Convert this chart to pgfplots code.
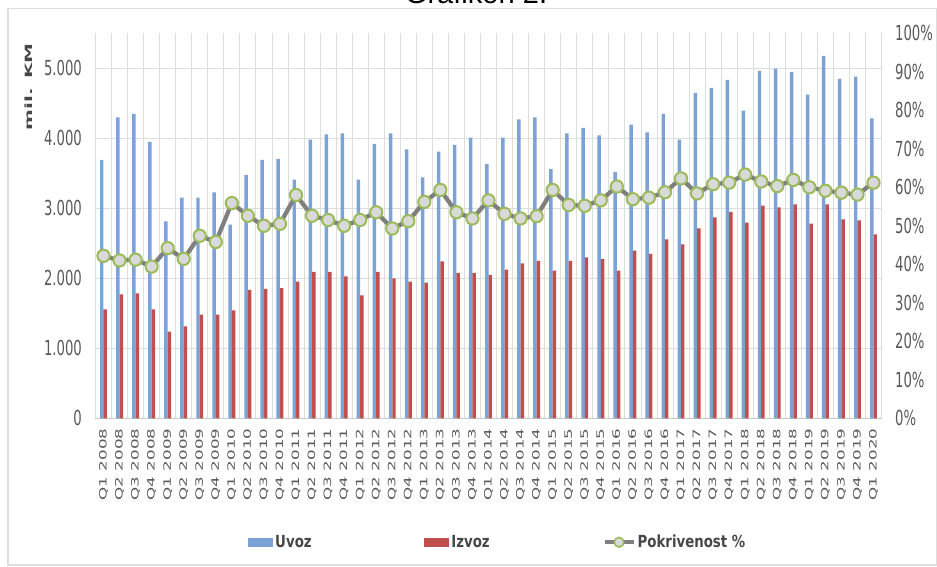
\documentclass[border=0pt]{standalone}
\usepackage{fontspec}
\setmainfont{DejaVu Sans}
\newfontfamily\tickfont[FakeStretch=0.64]{DejaVu Sans}
\newfontfamily\xtickfont[FakeStretch=1.65]{DejaVu Sans}
\newfontfamily\legfont[FakeStretch=0.8]{DejaVu Sans}
\newfontfamily\ylabfont[FakeStretch=2.0]{DejaVu Sans}
\newfontfamily\titlefont{Liberation Sans}
\usepackage{pgfplots}
\usepackage{pgfplotstable}
\pgfplotsset{compat=1.18}

\definecolor{uvoz}{HTML}{7BA3D6}
\definecolor{izvoz}{HTML}{C0504D}
\definecolor{pokr}{HTML}{7F7F7F}
\definecolor{mk}{HTML}{9BBB59}
\definecolor{mkfill}{HTML}{D9D9D9}
\definecolor{txt}{HTML}{595959}
\definecolor{gridc}{HTML}{DDDDDD}
\definecolor{axisc}{HTML}{C8C8C8}

% i, uvoz, izvoz (mil. KM), pokrivenost (%)
\pgfplotstableread{
i u z p
0 3690 1557 42.2
1 4300 1771 41.0
2 4347 1786 41.2
3 3947 1557 39.4
4 2814 1237 44.2
5 3152 1314 41.4
6 3152 1480 47.4
7 3228 1480 45.8
8 2766 1543 55.9
9 3476 1833 52.6
10 3690 1847 50.0
11 3704 1861 50.5
12 3409 1952 58.0
13 3980 2090 52.6
14 4057 2090 51.5
15 4071 2028 50.0
16 3409 1757 51.5
17 3919 2090 53.5
18 4071 2000 49.3
19 3843 1952 51.2
20 3443 1938 56.2
21 3809 2243 59.3
22 3904 2076 53.5
23 4009 2076 51.9
24 3629 2048 56.6
25 4009 2124 53.1
26 4271 2214 51.9
27 4300 2247 52.5
28 3561 2109 59.3
29 4071 2247 55.4
30 4147 2300 55.2
31 4043 2276 56.6
32 3519 2109 60.2
33 4195 2395 56.9
34 4086 2347 57.3
35 4347 2557 58.7
36 3980 2486 62.3
37 4647 2714 58.4
38 4719 2871 60.8
39 4833 2947 61.2
40 4395 2795 63.3
41 4962 3038 61.5
42 4995 3014 60.3
43 4947 3057 61.9
44 4623 2780 60.0
45 5176 3057 59.1
46 4847 2843 58.6
47 4880 2828 58.1
48 4286 2628 61.2
}\data

\begin{document}
\begin{tikzpicture}
\draw[gridc, line width=0.8pt] (-65.6pt,-110pt) rectangle (630.4pt,307pt);
\node[anchor=base, font=\fontsize{21.8}{24}\titlefont] at (285.4pt,310.7pt) {Grafikon 2.};
\node[rotate=90, font=\fontsize{7.5}{9}\ylabfont\bfseries, text=txt!80!black] at (-50.25pt,248.5pt) {mil. KM};

\begin{axis}[
  scale only axis, width=589.5pt, height=288.75pt,
  xmin=-0.5, xmax=48.5, ymin=0, ymax=5500,
  ybar=0pt, bar width=2.6pt,
  axis x line*=bottom, axis y line*=left,
  x axis line style={draw=axisc, line width=0.8pt}, y axis line style={draw=none},
  xtick={0,...,48},
  xticklabels={Q1 2008,Q2 2008,Q3 2008,Q4 2008,Q1 2009,Q2 2009,Q3 2009,Q4 2009,
    Q1 2010,Q2 2010,Q3 2010,Q4 2010,Q1 2011,Q2 2011,Q3 2011,Q4 2011,
    Q1 2012,Q2 2012,Q3 2012,Q4 2012,Q1 2013,Q2 2013,Q3 2013,Q4 2013,
    Q1 2014,Q2 2014,Q3 2014,Q4 2014,Q1 2015,Q2 2015,Q3 2015,Q4 2015,
    Q1 2016,Q2 2016,Q3 2016,Q4 2016,Q1 2017,Q2 2017,Q3 2017,Q4 2017,
    Q1 2018,Q2 2018,Q3 2018,Q4 2018,Q1 2019,Q2 2019,Q3 2019,Q4 2019,Q1 2020},
  minor xtick={-0.5,0.5,...,48.5},
  xminorgrids, minor x grid style={gridc, line width=0.6pt},
  ytick={0,1000,...,5000}, yticklabels={0,1.000,2.000,3.000,4.000,5.000},
  ymajorgrids, major y grid style={gridc, line width=0.8pt},
  major tick length=0pt, minor tick length=0pt, tick style={draw=none},
  yticklabel style={font=\fontsize{15.5}{16}\tickfont, text=txt, inner sep=0pt},
  yticklabel shift=10pt,
  xticklabel style={font=\fontsize{7.6}{9}\xtickfont, text=txt, rotate=90, anchor=east, inner sep=0pt},
  xticklabel shift=7.5pt,
  legend columns=-1,
  legend style={at={(0.194,-0.322)}, anchor=west, draw=none, fill=none,
    font=\fontsize{12.5}{14}\legfont\bfseries, text=txt!80!black, inner sep=0pt,
    nodes={inner sep=1.5pt},
    /tikz/every even column/.append style={column sep=83pt}},
]
\addplot[fill=uvoz, draw=none,
  legend image code/.code={\fill[uvoz] (0pt,-3.4pt) rectangle (18.75pt,3.4pt);}]
  table[x=i, y=u]{\data};
\addplot[fill=izvoz, draw=none,
  legend image code/.code={\fill[izvoz] (0pt,-3.4pt) rectangle (18.75pt,3.4pt);}]
  table[x=i, y=z]{\data};
\addlegendentry{Uvoz}
\addlegendentry{Izvoz}
\addlegendimage{legend image code/.code={
  \draw[pokr, line width=3.2pt] (0pt,0pt) -- (21.75pt,0pt);
  \draw[mk, fill=mkfill, line width=1.2pt] (10.9pt,0pt) circle (3.6pt);}}
\addlegendentry{Pokrivenost \%}
\end{axis}

\begin{axis}[
  scale only axis, width=589.5pt, height=288.75pt,
  xmin=-0.5, xmax=48.5, ymin=0, ymax=100,
  axis x line=none, axis y line*=right, y axis line style={draw=none},
  ytick={0,10,...,100},
  yticklabels={0\%,10\%,20\%,30\%,40\%,50\%,60\%,70\%,80\%,90\%,100\%},
  major tick length=0pt, tick style={draw=none},
  yticklabel style={font=\fontsize{15.5}{16}\tickfont, text=txt, inner sep=0pt},
  yticklabel shift=10pt,
]
\addplot[pokr, line width=3.2pt, line join=round, mark=*, mark size=4.6pt,
  mark options={fill=mkfill, draw=mk, line width=1.5pt}]
  table[x=i, y=p]{\data};
\end{axis}

\pgfresetboundingbox
\useasboundingbox (-71.6pt,-110.8pt) rectangle (631.1pt,313.7pt);
\end{tikzpicture}
\end{document}
